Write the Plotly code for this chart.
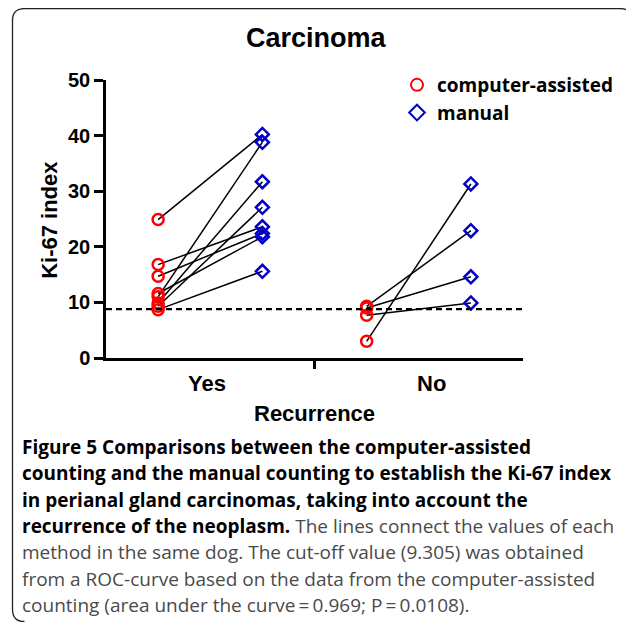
import plotly.graph_objects as go

# ---------------- data ----------------
categories = ["Yes", "No"]
methods = ["computer-assisted", "manual"]
yes_computer = [24.9, 16.8, 14.7, 11.6, 11.0, 9.9, 9.3, 8.7]
yes_manual = [40.2, 23.6, 22.4, 21.8, 38.8, 31.7, 27.1, 15.6]
no_computer = [9.3, 9.0, 7.7, 3.0]
no_manual = [22.9, 14.6, 9.9, 31.3]
cutoff = 8.8
y_ticks = [0, 10, 20, 30, 40, 50]
title_text = "Carcinoma"
y_title = "Ki-67 index"
x_title = "Recurrence"
caption_lines = [
    ("Figure 5 Comparisons between the computer-assisted", ""),
    ("counting and the manual counting to establish the Ki-67 index", ""),
    ("in perianal gland carcinomas, taking into account the", ""),
    ("recurrence of the neoplasm.", " The lines connect the values of each"),
    ("", "method in the same dog. The cut-off value (9.305) was obtained"),
    ("", "from a ROC-curve based on the data from the computer-assisted"),
    ("", "counting (area under the curve\u2009=\u20090.969; P\u2009=\u20090.0108)."),
]

# ---------------- layout geometry ----------------
# page body has an 8px margin, so the figure is drawn 8px in and smaller
OFF = 8
W, H = 634 - OFF, 627 - OFF
L, R, T, B = 106 - OFF, 523 - OFF, 80 - OFF, 358.3 - OFF
def px(x):  # screen x -> paper
    return (x - OFF - L) / (R - L)
def py(y):  # screen y -> paper
    return (B - (y - OFF)) / (B - T)

group_centers = [1.0, 3.0]
offset = 0.5
label_x = [0.97, 3.12]

RED = "#FF0000"
BLUE = "#0000C8"
AX_FONT = "Liberation Sans, Arial, sans-serif"
CAP_FONT = "Open Sans, sans-serif"

fig = go.Figure()

# connecting lines
lx, ly = [], []
for gc, comp, man in [(group_centers[0], yes_computer, yes_manual),
                      (group_centers[1], no_computer, no_manual)]:
    for a, b in zip(comp, man):
        lx += [gc - offset, gc + offset, None]
        ly += [a, b, None]
fig.add_trace(go.Scatter(x=lx, y=ly, mode="lines",
                         line=dict(color="black", width=1.5),
                         showlegend=False, hoverinfo="skip"))

cx = [group_centers[0] - offset] * len(yes_computer) + [group_centers[1] - offset] * len(no_computer)
cy = yes_computer + no_computer
mx = [group_centers[0] + offset] * len(yes_manual) + [group_centers[1] + offset] * len(no_manual)
my = yes_manual + no_manual

fig.add_trace(go.Scatter(x=cx, y=cy, mode="markers", name="<b>" + methods[0] + "</b>",
                         marker=dict(symbol="circle-open", size=11, color=RED,
                                     line=dict(color=RED, width=2.5))))
fig.add_trace(go.Scatter(x=mx, y=my, mode="markers", name="<b>" + methods[1] + "</b>",
                         marker=dict(symbol="diamond-open", size=10, color=BLUE,
                                     line=dict(color=BLUE, width=2.5))))

# cut-off dashed line
fig.add_shape(type="line", xref="paper", yref="y", x0=0, x1=1, y0=cutoff, y1=cutoff,
              line=dict(color="black", width=2.2, dash="6px,4px"))

# frame (rounded box), screen coordinates
rr = 12
xl, xr_, yt, yb = 12.5, 632, 8.5, 622
path = (f"M {px(xl+rr)},{py(yb)} Q {px(xl)},{py(yb)} {px(xl)},{py(yb-rr)} "
        f"L {px(xl)},{py(yt+rr)} Q {px(xl)},{py(yt)} {px(xl+rr)},{py(yt)} "
        f"L {px(xr_-rr)},{py(yt)} Q {px(xr_)},{py(yt)} {px(xr_)},{py(yt+rr)} "
        f"L {px(xr_)},{py(yt+30)}")
fig.add_shape(type="path", xref="paper", yref="paper", path=path,
              line=dict(color="#222222", width=1.3))

ann = []
ann.append(dict(text="<b>" + title_text + "</b>", x=px(316), y=py(38), xref="paper", yref="paper",
                showarrow=False, xanchor="center", yanchor="middle",
                font=dict(family=AX_FONT, size=27, color="black")))
ann.append(dict(text="<b>" + y_title + "</b>", x=px(50), y=py(220), xref="paper", yref="paper",
                showarrow=False, textangle=-90, xanchor="center", yanchor="middle",
                font=dict(family=AX_FONT, size=22, color="black")))
ann.append(dict(text="<b>" + x_title + "</b>", x=px(314), y=py(414), xref="paper", yref="paper",
                showarrow=False, xanchor="center", yanchor="middle",
                font=dict(family=AX_FONT, size=22, color="black")))
for c, lxp in zip(categories, label_x):
    ann.append(dict(text="<b>" + c + "</b>", x=lxp, y=py(384), xref="x", yref="paper",
                    showarrow=False, xanchor="center", yanchor="middle",
                    font=dict(family=AX_FONT, size=22, color="black")))

line_y0, line_dy = 447, 26.5
for i, (bold, reg) in enumerate(caption_lines):
    txt = ""
    if bold:
        txt += "<b>" + bold + "</b>"
    if reg:
        txt += "<span style='color:#4a4a4a'>" + reg + "</span>"
    ann.append(dict(text=txt, x=px(20), y=py(line_y0 + i * line_dy), xref="paper", yref="paper",
                    showarrow=False, xanchor="left", yanchor="middle", align="left",
                    font=dict(family=CAP_FONT, size=19, color="black")))

fig.update_layout(
    width=W, height=H,
    margin=dict(l=L, r=W - R, t=T, b=H - B, pad=0),
    paper_bgcolor="white", plot_bgcolor="white",
    annotations=ann,
    showlegend=True,
    legend=dict(x=px(397), y=py(66), xanchor="left", yanchor="top",
                font=dict(family=CAP_FONT, size=19, color="black"),
                bgcolor="rgba(0,0,0,0)", tracegroupgap=0, itemsizing="constant"),
    xaxis=dict(range=[0, 4], showgrid=False, zeroline=False, showline=True,
               linecolor="black", linewidth=2.5,
               tickvals=[2.0], ticktext=[""], ticks="outside", ticklen=8,
               tickwidth=2.5, tickcolor="black"),
    yaxis=dict(range=[0, 50], showgrid=False, zeroline=False, showline=True,
               linecolor="black", linewidth=2.5,
               tickvals=y_ticks, ticks="outside", ticklen=9, tickwidth=2.5,
               tickcolor="black",
               tickfont=dict(family=AX_FONT, size=20, color="black", weight="bold")),
)

fig.write_html("out.html")
